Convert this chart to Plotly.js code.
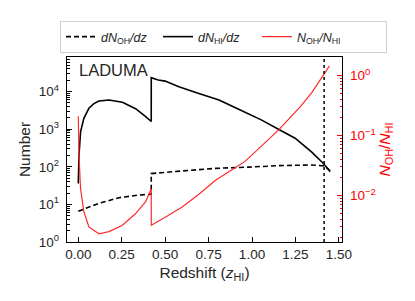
<!DOCTYPE html>
<html>
<head>
<meta charset="utf-8">
<script src="https://cdn.plot.ly/plotly-3.0.1.min.js"></script>
<style>html,body{margin:0;padding:0;background:#fff;}#chart{width:415px;height:301px;}</style>
</head>
<body>
<div id="chart"></div>
<script>
// dN_HI/dz (solid black)
const zHI = [0, 0.004, 0.013, 0.032, 0.061, 0.09, 0.119, 0.177, 0.254, 0.33, 0.388, 0.42,
             0.4201, 0.46, 0.50, 0.579, 0.694, 0.81, 0.905, 0.96, 1.056, 1.152, 1.248, 1.344, 1.411, 1.45];
const dNHI = [36, 200, 850, 1950, 3600, 4800, 5600, 6000, 5200, 3500, 2150, 1600,
              23400, 20400, 19000, 13500, 8900, 6000, 3700, 2800, 1740, 1000, 575, 245, 123, 74];
// dN_OH/dz (dashed black)
const zOH = [0, 0.06, 0.12, 0.235, 0.35, 0.42, 0.4201, 0.6, 0.79, 0.98, 1.15, 1.344, 1.42, 1.45];
const dNOH = [6.6, 8.5, 10.7, 15.1, 17.8, 18.6, 66, 77.6, 91, 98, 107, 112, 105, 78];
// N_OH/N_HI (red, right axis)
const zRatio = [0, 0.004, 0.013, 0.032, 0.061, 0.119, 0.177, 0.254, 0.33, 0.388, 0.42,
                0.4201, 0.51, 0.60, 0.694, 0.79, 0.912, 0.96, 1.152, 1.277, 1.344, 1.446];
const ratio = [0.21, 0.047, 0.013, 0.0054, 0.0030, 0.0023, 0.0025, 0.0032, 0.005, 0.0079, 0.0129,
               0.0032, 0.0045, 0.0065, 0.0105, 0.018, 0.030, 0.037, 0.123, 0.30, 0.52, 1.45];
const zMax = 1.415;
const xTicks = [0, 0.25, 0.5, 0.75, 1.0, 1.25, 1.5];
const xTickText = ['0.00', '0.25', '0.50', '0.75', '1.00', '1.25', '1.50'];
const yLeftTicks = [1, 10, 100, 1000, 10000];
const yLeftText = ['10<sup>0</sup>', '10<sup>1</sup>', '10<sup>2</sup>', '10<sup>3</sup>', '10<sup>4</sup>'];
const yRightTicks = [0.01, 0.1, 1];
const yRightText = ['10<sup>\u22122</sup>', '10<sup>\u22121</sup>', '10<sup>0</sup>'];

const FONT = 'Liberation Sans, Arial, sans-serif';
const TXT = '#262626';

const traces = [
  {x: zOH, y: dNOH, mode: 'lines', name: '<i>dN</i><sub>OH</sub><i>/dz</i>', legend: 'legend',
   line: {color: 'black', width: 1.6, dash: '5px,3px'}, yaxis: 'y'},
  {x: zHI, y: dNHI, mode: 'lines', name: '<i>dN</i><sub>HI</sub><i>/dz</i>', legend: 'legend2',
   line: {color: 'black', width: 1.6}, yaxis: 'y'},
  {x: zRatio, y: ratio, mode: 'lines', name: '<i>N</i><sub>OH</sub><i>/N</i><sub>HI</sub>', legend: 'legend3',
   line: {color: '#ff2a2a', width: 1.2}, yaxis: 'y2'}
];

function leg(px, top) {
  return {orientation: 'h', xref: 'container', x: px / 415, xanchor: 'left',
          yref: 'container', y: 1 - top / 301, yanchor: 'top',
          borderwidth: 0, bgcolor: 'rgba(0,0,0,0)',
          font: {family: FONT, size: 12.5, color: TXT}, itemwidth: 30};
}
const legend1 = Object.assign(leg(60, 21), {borderwidth: 1, bordercolor: '#d0d0d0', bgcolor: 'white',
                                             entrywidth: 280, entrywidthmode: 'pixels'});

const layout = {
  width: 415, height: 301,
  margin: {l: 67, r: 73, t: 57, b: 59},
  paper_bgcolor: 'white', plot_bgcolor: 'white',
  font: {family: FONT, color: TXT, size: 13},
  showlegend: true,
  legend: legend1, legend2: leg(158, 22), legend3: leg(257, 22),
  xaxis: {range: [-0.065, 1.518], tickvals: xTicks, ticktext: xTickText,
          ticks: 'inside', ticklen: 5, tickwidth: 1, tickcolor: 'black',
          showline: true, linecolor: 'black', linewidth: 1.2, mirror: true,
          showgrid: false, zeroline: false,
          tickfont: {size: 13.5, color: TXT},
          title: {text: 'Redshift (<i>z</i><sub>HI</sub>)', font: {size: 15.5, color: TXT}, standoff: 5}},
  yaxis: {type: 'log', range: [0, 4.92], tickvals: yLeftTicks, ticktext: yLeftText,
          ticks: 'inside', ticklen: 5, tickwidth: 1, tickcolor: 'black',
          minor: {ticks: 'inside', ticklen: 2.5, tickcolor: 'black', dtick: 'D1', showgrid: false},
          showline: true, linecolor: 'black', linewidth: 1.2, mirror: true,
          showgrid: false, zeroline: false, ticklabelstandoff: 4,
          tickfont: {size: 13.5, color: TXT},
          title: {text: 'Number', font: {size: 15.5, color: TXT}, standoff: 4}},
  yaxis2: {type: 'log', overlaying: 'y', side: 'right', range: [-2.775, 0.308],
           tickvals: yRightTicks, ticktext: yRightText,
           ticks: 'inside', ticklen: 5, tickwidth: 1, tickcolor: 'red',
           minor: {ticks: 'inside', ticklen: 2.5, tickcolor: 'red', dtick: 'D1', showgrid: false},
           showline: true, linecolor: 'black', linewidth: 1.2,
           showgrid: false, zeroline: false, ticklabelstandoff: 4,
           tickfont: {size: 13.5, color: 'red'},
           title: {text: '<i>N</i><sub>OH</sub>/<i>N</i><sub>HI</sub>', font: {size: 15.5, color: 'red'}, standoff: 4}},
  shapes: [
    {type: 'line', xref: 'x', yref: 'paper', x0: zMax, x1: zMax, y0: 0, y1: 1,
     line: {color: 'black', width: 1.5, dash: 'dot'}}
  ],
  annotations: [{text: 'LADUMA', xref: 'paper', yref: 'paper', x: 0.035, y: 0.99,
                 xanchor: 'left', yanchor: 'top', showarrow: false,
                 font: {family: FONT, size: 16.5, color: TXT}}]
};

Plotly.newPlot('chart', traces, layout, {displayModeBar: false, staticPlot: true});
</script>
</body>
</html>
